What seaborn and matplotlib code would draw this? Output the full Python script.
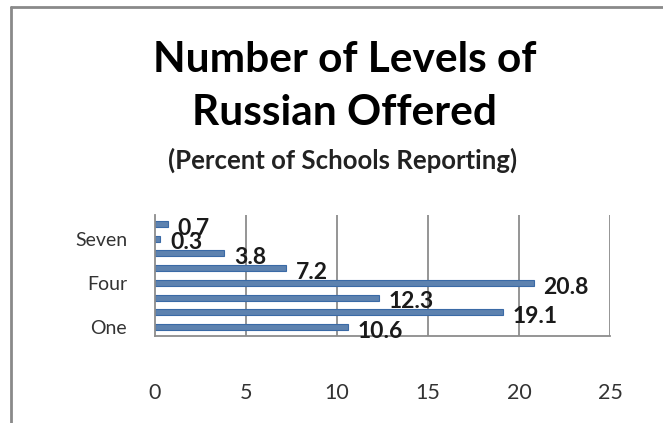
import matplotlib
matplotlib.use("Agg")
import matplotlib.pyplot as plt
import pandas as pd
import seaborn as sns

# data (bottom to top in the chart)
levels = ["One", "Two", "Three", "Four", "Five", "Six", "Seven", "Eight"]
percents = [10.6, 19.1, 12.3, 20.8, 7.2, 3.8, 0.3, 0.7]
shown_labels = ["One", "Four", "Seven"]
x_ticks = [0, 5, 10, 15, 20, 25]

df = pd.DataFrame({"level": levels, "percent": percents})

sns.set_style("white")
plt.rcParams["font.family"] = ["Lato", "DejaVu Sans"]

fig = plt.figure(figsize=(6.63, 4.23), dpi=100)
ax = fig.add_axes([155 / 663, 87 / 423, 455 / 663, 121 / 423])

order = levels[::-1]
sns.barplot(data=df, x="percent", y="level", order=order, color="#4F81BD",
            width=0.4, edgecolor="#3A6AA6", linewidth=0.8, ax=ax)

ax.set_xlim(0, 25)
ax.set_ylim(len(levels) - 0.4, -0.6)
ax.set_xticks(x_ticks)
ax.set_xticklabels([str(t) for t in x_ticks], fontsize=15.5, color="#333333")
ax.set_yticks(range(len(order)))
ax.set_yticklabels([l if l in shown_labels else "" for l in order],
                   fontsize=14, color="#333333")
ax.tick_params(axis="x", length=0, pad=34)
ax.tick_params(axis="y", length=0, pad=20)
ax.set_xlabel("")
ax.set_ylabel("")

for t in x_ticks[1:]:
    ax.axvline(t, color="#8c8c8c", lw=1.3, zorder=0)
for side in ["top", "right"]:
    ax.spines[side].set_visible(False)
ax.spines["left"].set_color("#8c8c8c")
ax.spines["left"].set_linewidth(1.3)
ax.spines["bottom"].set_color("#8c8c8c")
ax.spines["bottom"].set_linewidth(1.3)

# value labels
for i, lvl in enumerate(order):
    v = df.loc[df["level"] == lvl, "percent"].iloc[0]
    ax.annotate(f"{v}", xy=(v, i), xytext=(7, -3), textcoords="offset points",
                ha="left", va="center", fontsize=16.5, fontweight="bold", color="#1a1a1a")

# titles
fig.text(345 / 663, 1 - 60 / 423, "Number of Levels of", ha="center", va="center",
         fontsize=30.5, fontweight="bold", color="black")
fig.text(345 / 663, 1 - 113 / 423, "Russian Offered", ha="center", va="center",
         fontsize=30.5, fontweight="bold", color="black")
fig.text(343 / 663, 1 - 160 / 423, "(Percent of Schools Reporting)", ha="center",
         va="center", fontsize=18.5, fontweight="bold", color="#222222")

# chart area border (left and top visible)
fig.add_artist(plt.Line2D([11 / 663, 11 / 663], [0, 1 - 7 / 423], color="#8a8a8a", lw=2))
fig.add_artist(plt.Line2D([11 / 663, 1], [1 - 7 / 423, 1 - 7 / 423], color="#8a8a8a", lw=2))

fig.savefig("out.png", dpi=100)
